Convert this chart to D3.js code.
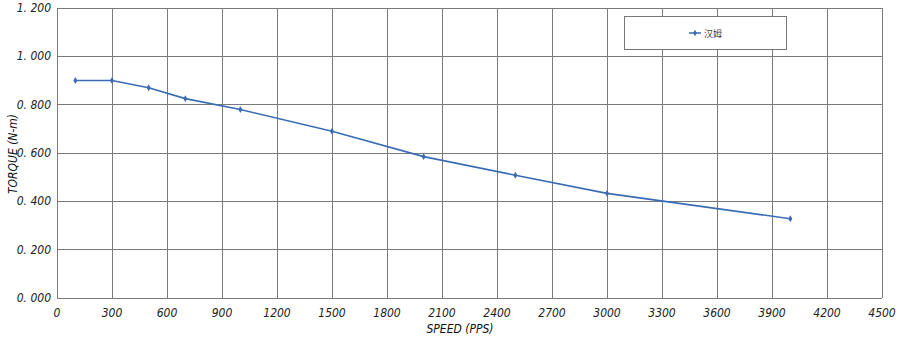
<!DOCTYPE html>
<html><head><meta charset="utf-8">
<script src="https://cdn.jsdelivr.net/npm/d3@7"></script>
<style>
body{margin:0;background:#fff;}
svg text.ax{font-family:"Liberation Sans Narrow","DejaVu Sans Condensed","DejaVu Sans",sans-serif;font-style:italic;}
</style></head>
<body><svg id="c" width="917" height="342"></svg>
<script>
const speeds = [100, 300, 500, 700, 1000, 1500, 2000, 2500, 3000, 4000];
const torque = [0.90, 0.90, 0.87, 0.825, 0.78, 0.69, 0.585, 0.508, 0.433, 0.328];
const seriesName = "汉姆";
const xTicks = [0,300,600,900,1200,1500,1800,2100,2400,2700,3000,3300,3600,3900,4200,4500];
const yTicks = [0,0.2,0.4,0.6,0.8,1.0,1.2];
const xTitle = "SPEED (PPS)";
const yTitle = "TORQUE (N-m)";

const svg = d3.select("#c");
const m = {l:57, r:882, t:8, b:298};
const x = d3.scaleLinear().domain([0,4500]).range([m.l,m.r]);
const y = d3.scaleLinear().domain([0,1.2]).range([m.b,m.t]);
const gridColor = "#7a7a7a";

// grid
svg.append("g").selectAll("line").data(xTicks).join("line")
  .attr("x1",d=>x(d)).attr("x2",d=>x(d)).attr("y1",m.t).attr("y2",m.b)
  .attr("stroke",gridColor).attr("stroke-width",1).attr("shape-rendering","crispEdges");
svg.append("g").selectAll("line").data(yTicks).join("line")
  .attr("x1",m.l).attr("x2",m.r).attr("y1",d=>y(d)).attr("y2",d=>y(d))
  .attr("stroke",gridColor).attr("stroke-width",1).attr("shape-rendering","crispEdges");

// axes labels
const fmtY = d => d3.format(".3f")(d).replace(".", ". ");
svg.append("g").selectAll("text").data(yTicks).join("text").attr("class","ax")
  .attr("x",m.l-6).attr("y",d=>y(d)+4).attr("text-anchor","end")
  .attr("font-size",12).attr("fill","#222").text(fmtY);
svg.append("g").selectAll("text").data(xTicks).join("text").attr("class","ax")
  .attr("x",d=>x(d)).attr("y",m.b+19).attr("text-anchor","middle")
  .attr("font-size",12).attr("fill","#222").text(d=>d);

svg.append("text").attr("class","ax").attr("x",460).attr("y",333).attr("text-anchor","middle")
  .attr("font-size",12).attr("fill","#111").text(xTitle);
svg.append("text").attr("class","ax").attr("transform",`translate(17,154) rotate(-90)`)
  .attr("text-anchor","middle").attr("font-size",12)
  .attr("fill","#111").text(yTitle);

// line
const color = "#3a6cb4";
const pts = speeds.map((s,i)=>[s,torque[i]]);
svg.append("path").datum(pts)
  .attr("d", d3.line().x(d=>x(d[0])).y(d=>y(d[1])))
  .attr("fill","none").attr("stroke",color).attr("stroke-width",1.6);
svg.append("g").selectAll("path").data(pts).join("path")
  .attr("transform",d=>`translate(${x(d[0])},${y(d[1])})`)
  .attr("d", d3.symbol(d3.symbolDiamond, 14)())
  .attr("fill",color);

// legend
const lg = svg.append("g");
lg.append("rect").attr("x",624.5).attr("y",16.5).attr("width",162).attr("height",33)
  .attr("fill","#fff").attr("stroke","#777").attr("stroke-width",1);
lg.append("line").attr("x1",689).attr("x2",701).attr("y1",33).attr("y2",33)
  .attr("stroke",color).attr("stroke-width",1.5);
lg.append("path").attr("transform","translate(695,33)")
  .attr("d", d3.symbol(d3.symbolDiamond, 12)()).attr("fill",color);
lg.append("text").attr("x",704).attr("y",36.5).attr("font-size",9)
  .style("font-style","normal").attr("fill","#444")
  .style("font-family","'Noto Sans CJK SC',sans-serif").text(seriesName);
</script></body></html>
